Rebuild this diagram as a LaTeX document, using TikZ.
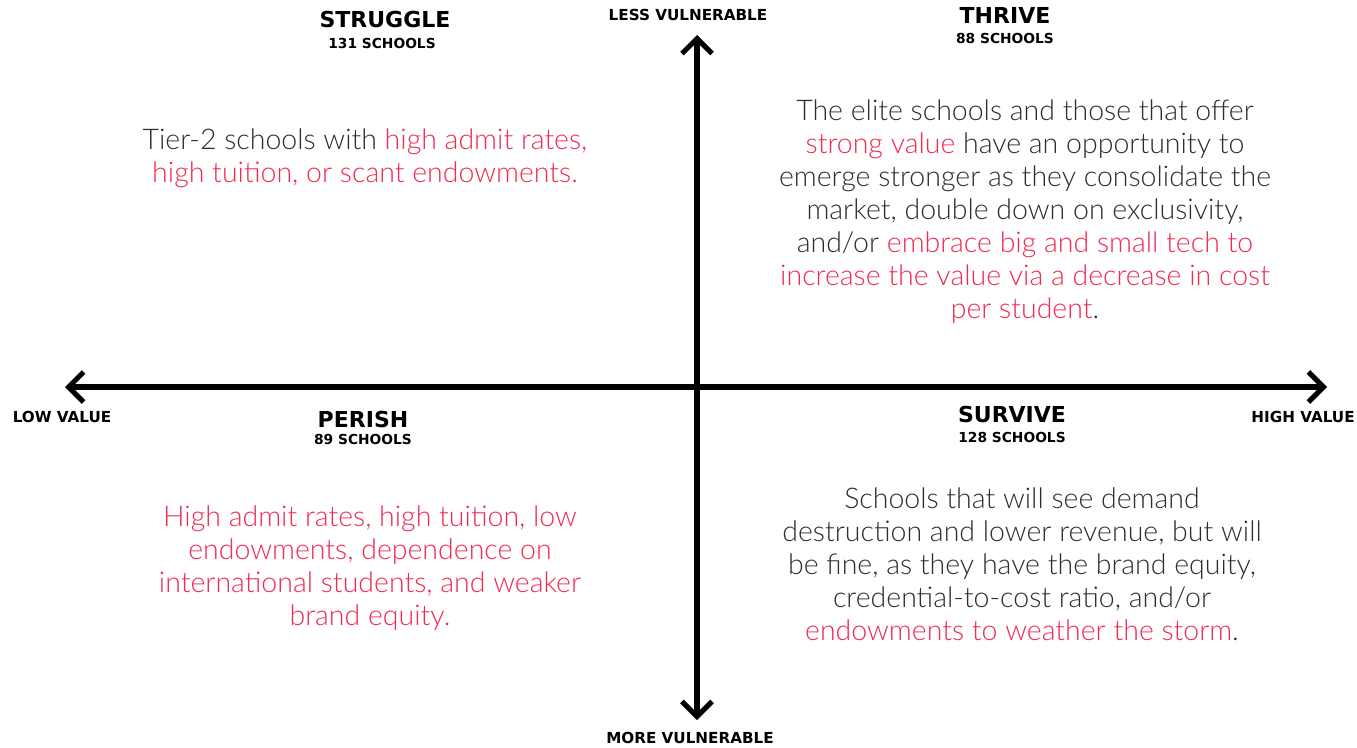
\documentclass[tikz,border=0pt]{standalone}
\usepackage{fontspec}
\setmainfont{Lato}[UprightFont=* Light]
\newfontfamily\headfont{DejaVu Sans}
\usepackage{xcolor}
\usetikzlibrary{arrows.meta}

\definecolor{hot}{RGB}{242,42,80}
\definecolor{ink}{RGB}{45,45,50}

\begin{document}
\begin{tikzpicture}[x=1pt,y=-1pt,
  barb/.tip={Straight Barb[length=15pt,width=30pt,line width=5pt]},
  axis/.style={line width=6pt,barb-barb},
  quadtitle/.style={font=\headfont\bfseries\fontsize{22}{22}\selectfont,inner sep=0pt},
  quadcount/.style={font=\headfont\bfseries\fontsize{13.8}{13.8}\selectfont,inner sep=0pt},
  axislabel/.style={font=\headfont\bfseries\fontsize{15.2}{15.2}\selectfont,inner sep=0pt},
  blurb/.style={font=\fontsize{28.5}{33}\selectfont,text=ink,align=center,inner sep=0pt}]

\useasboundingbox[fill=white] (0,0) rectangle (1357,747);

% Axes: value left to right, vulnerability top to bottom
\coordinate (lowv)  at (65,387);
\coordinate (highv) at (1327,387);
\coordinate (lessv) at (697,35);
\coordinate (morev) at (697,720);
\draw[axis] (lowv) -- (highv);
\draw[axis] (lessv) -- (morev);

% Axis ends
\node[axislabel] (lesslbl) at (688,15)  {LESS VULNERABLE};
\node[axislabel] (morelbl) at (690,738) {MORE VULNERABLE};
\node[axislabel] (lowlbl)  at (62,417)  {LOW VALUE};
\node[axislabel] (highlbl) at (1303,417) {HIGH VALUE};

% Quadrant titles
\node[quadtitle] (struggle) at (385,19)  {STRUGGLE};
\node[quadcount] (strugglen) at (382,43) {131 SCHOOLS};
\node[quadtitle] (thrive)   at (1005,15) {THRIVE};
\node[quadcount] (thriven)  at (1005,38) {88 SCHOOLS};
\node[quadtitle] (perish)   at (363,419) {PERISH};
\node[quadcount] (perishn)  at (363,439) {89 SCHOOLS};
\node[quadtitle] (survive)  at (1012,414) {SURVIVE};
\node[quadcount] (surviven) at (1012,437) {128 SCHOOLS};

% Quadrant descriptions
\node[blurb] (strugglet) at (365,158)
  {Tier-2 schools with \textcolor{hot}{high admit rates,}\\
   \textcolor{hot}{high tuition, or scant endowments.}};

\node[blurb] (thrivet) at (1025,212)
  {The elite schools and those that offer\\
   \textcolor{hot}{strong value} have an opportunity to\\
   emerge stronger as they consolidate the\\
   market, double down on exclusivity,\\
   and/or \textcolor{hot}{embrace big and small tech to}\\
   \textcolor{hot}{increase the value via a decrease in cost}\\
   \textcolor{hot}{per student}.};

\node[blurb,text=hot] (perisht) at (370,568)
  {High admit rates, high tuition, low\\
   endowments, dependence on\\
   international students, and weaker\\
   brand equity.};

\node[blurb] (survivet) at (1022,564)
  {Schools that will see demand\\
   destruction and lower revenue, but will\\
   be fine, as they have the brand equity,\\
   credential-to-cost ratio, and/or\\
   \textcolor{hot}{endowments to weather the storm}.};

\end{tikzpicture}
\end{document}
